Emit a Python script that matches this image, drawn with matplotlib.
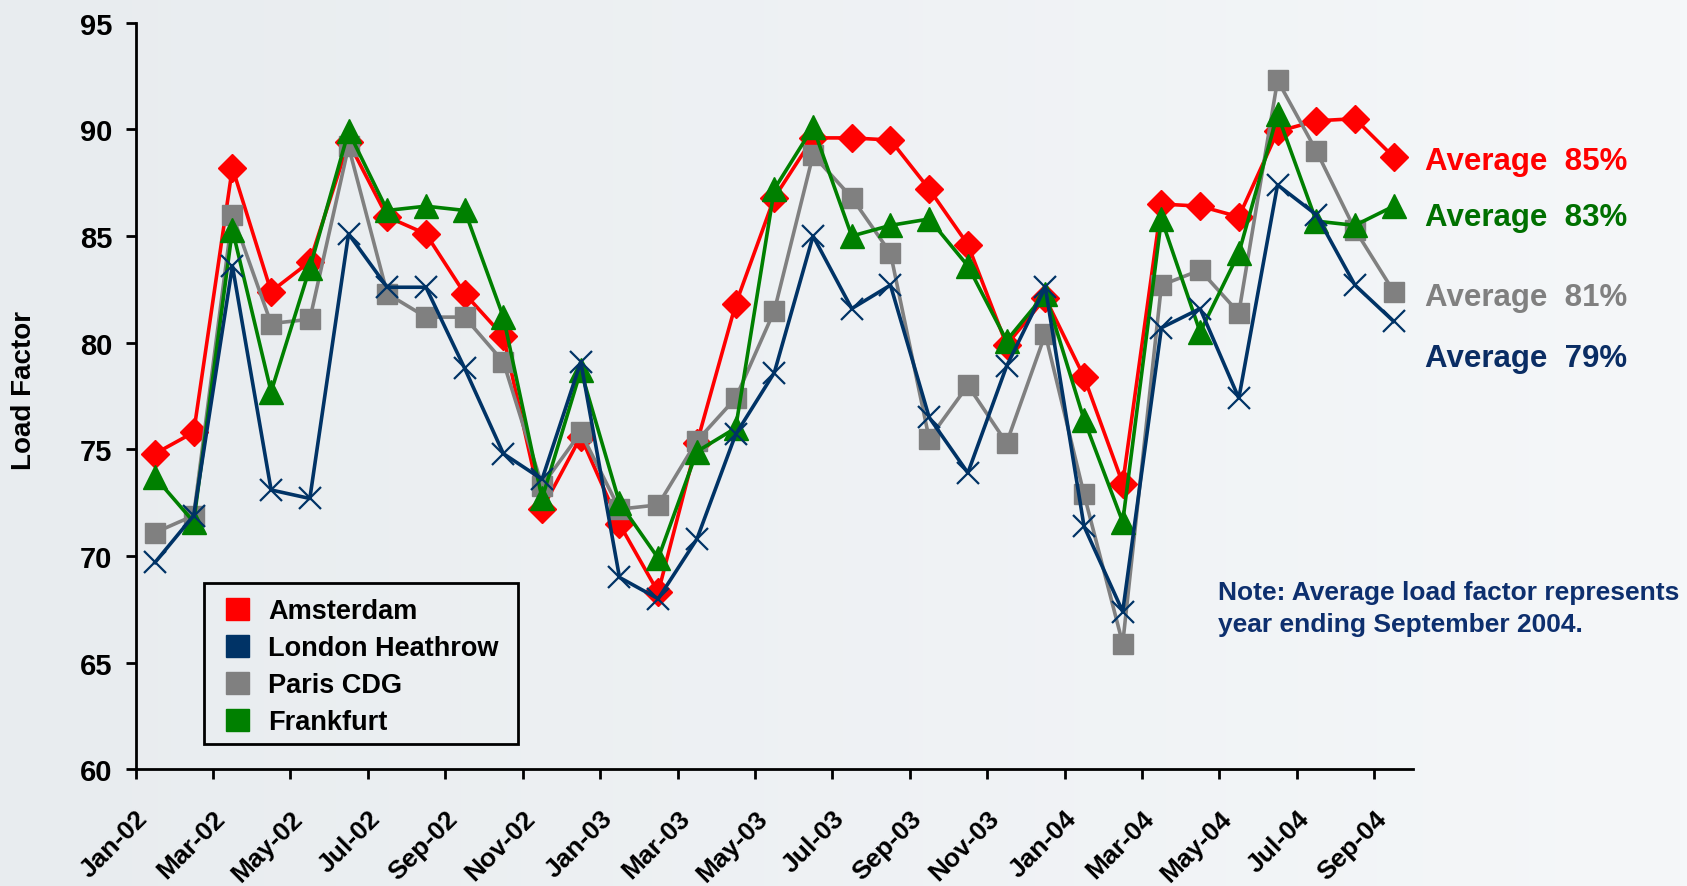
import numpy as np
import matplotlib.pyplot as plt
from matplotlib.patches import Patch, Rectangle
from matplotlib.colors import LinearSegmentedColormap
from matplotlib.transforms import ScaledTranslation

plt.rcParams['font.family'] = ['Liberation Sans', 'DejaVu Sans']
plt.rcParams['font.weight'] = 'bold'

# monthly load factor, Jan-02 .. Sep-04
months = ["Jan-02", "Feb-02", "Mar-02", "Apr-02", "May-02", "Jun-02", "Jul-02", "Aug-02",
          "Sep-02", "Oct-02", "Nov-02", "Dec-02", "Jan-03", "Feb-03", "Mar-03", "Apr-03",
          "May-03", "Jun-03", "Jul-03", "Aug-03", "Sep-03", "Oct-03", "Nov-03", "Dec-03",
          "Jan-04", "Feb-04", "Mar-04", "Apr-04", "May-04", "Jun-04", "Jul-04", "Aug-04",
          "Sep-04"]
amsterdam = [74.8, 75.8, 88.2, 82.4, 83.8, 89.4, 85.9, 85.1, 82.3, 80.3, 72.2, 75.6,
             71.5, 68.3, 75.3, 81.8, 86.8, 89.6, 89.6, 89.5, 87.2, 84.6, 79.9, 82.1,
             78.4, 73.4, 86.5, 86.4, 85.9, 89.9, 90.4, 90.5, 88.7]
london = [69.7, 71.9, 83.6, 73.1, 72.7, 85.1, 82.6, 82.6, 78.8, 74.8, 73.6, 79.1,
          69.0, 68.0, 70.8, 75.7, 78.6, 85.0, 81.6, 82.7, 76.5, 73.9, 78.9, 82.6,
          71.4, 67.4, 80.7, 81.6, 77.4, 87.4, 86.0, 82.7, 81.0]
paris = [71.1, 71.9, 86.0, 80.9, 81.1, 89.2, 82.3, 81.2, 81.2, 79.1, 73.3, 75.8,
         72.2, 72.4, 75.4, 77.4, 81.5, 88.8, 86.8, 84.2, 75.5, 78.0, 75.3, 80.4,
         72.9, 65.9, 82.7, 83.4, 81.4, 92.3, 89.0, 85.3, 82.4]
frankfurt = [73.7, 71.6, 85.3, 77.7, 83.5, 89.9, 86.2, 86.4, 86.2, 81.2, 72.7, 78.7,
             72.5, 69.9, 74.9, 76.0, 87.2, 90.1, 85.0, 85.5, 85.8, 83.6, 80.1, 82.3,
             76.4, 71.6, 85.8, 80.5, 84.2, 90.7, 85.7, 85.5, 86.4]
averages = ["Average  85%", "Average  83%", "Average  81%", "Average  79%"]

RED = '#ff0000'
NAVY = '#003366'
GREY = '#808080'
GREEN = '#008000'

W, H = 1687, 887
fig = plt.figure(figsize=(W / 100, H / 100), dpi=100)

# light background wash
bg = fig.add_axes([0, 0, 1, 1], zorder=-10)
grad = np.linspace(0, 1, 256)[None, :] * np.ones((64, 1))
bg.imshow(grad, cmap=LinearSegmentedColormap.from_list('bg', ['#e8ecef', '#f5f7f9']),
          aspect='auto', extent=[0, 1, 0, 1])
bg.axis('off')

ax = fig.add_axes([0.0804, 0.1314, 0.7572, 0.8419])
ax.patch.set_alpha(0)
x = np.arange(len(months))

ax.plot(x, amsterdam, color=RED, lw=2.6, marker='D', ms=14, zorder=2)
ax.plot(x, paris, color=GREY, lw=2.6, marker='s', ms=15, zorder=3)
ax.plot(x, frankfurt, color=GREEN, lw=2.6, marker='^', ms=17, zorder=4)
ax.plot(x, london, color=NAVY, lw=2.6, marker='x', ms=16, mew=1.6, zorder=5)

ax.set_xlim(-0.5, len(months) - 0.5)
ax.set_ylim(60, 95)
ax.set_yticks(range(60, 96, 5))
ax.set_xticks(np.arange(-0.5, len(months) - 0.5, 2))
ax.set_xticklabels(months[::2], rotation=45, ha='right', va='top', rotation_mode='anchor')
for lbl in ax.get_xticklabels():
    lbl.set_transform(lbl.get_transform() + ScaledTranslation(-7 / 100, 0, fig.dpi_scale_trans))

ax.tick_params(axis='y', labelsize=21, length=7, width=2, direction='out', pad=10)
ax.tick_params(axis='x', labelsize=19, length=7, width=2, direction='out', pad=19)
for s in ['top', 'right']:
    ax.spines[s].set_visible(False)
for s in ['left', 'bottom']:
    ax.spines[s].set_linewidth(2)

fig.text(0.014, 0.56, 'Load Factor', rotation=90, ha='center', va='center', fontsize=20)

# legend box drawn by hand, entries placed inside it
fig.patches.append(Rectangle((204 / W, 1 - 745 / H), 314 / W, 161 / H, transform=fig.transFigure,
                             fill=False, edgecolor='black', linewidth=2, zorder=6))
handles = [Patch(color=c) for c in [RED, NAVY, GREY, GREEN]]
leg = fig.legend(handles, ['Amsterdam', 'London Heathrow', 'Paris CDG', 'Frankfurt'],
                 loc='upper left', bbox_to_anchor=(226 / W, 1 - 599 / H), fontsize=19.5,
                 frameon=False, handlelength=0.85, handleheight=0.85, handletextpad=0.7,
                 labelspacing=0.4, borderpad=0, borderaxespad=0)

avg_colors = [RED, '#007000', GREY, '#0a2d64']
avg_y = [162, 218, 298, 359]
for t, c, yy in zip(averages, avg_colors, avg_y):
    fig.text(1425 / W, 1 - yy / H, t, color=c, fontsize=22.5, ha='left', va='center')

fig.text(1218 / W, 1 - 609 / H, 'Note: Average load factor represents\nyear ending September 2004.',
         color='#0d2f6e', fontsize=19, ha='left', va='center', linespacing=1.4)

fig.savefig('out.png', dpi=100)
